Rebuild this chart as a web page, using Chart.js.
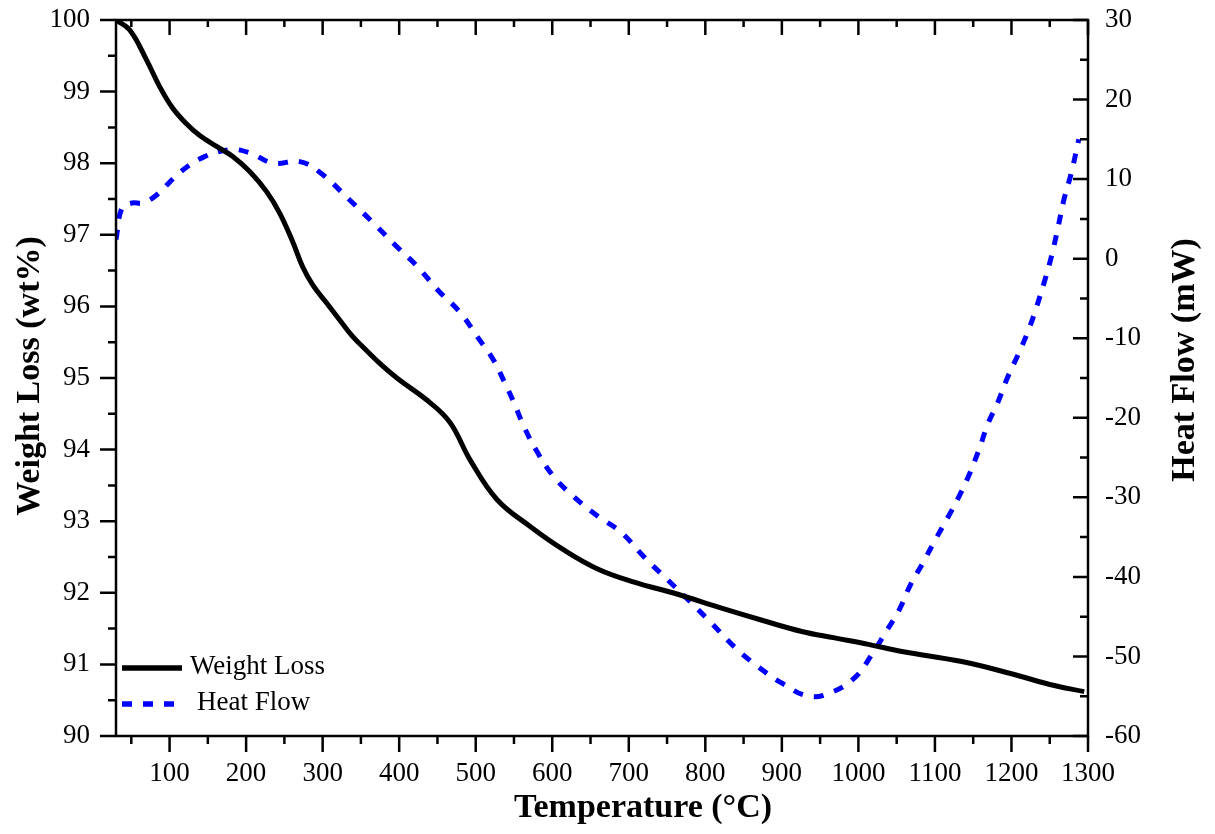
<!DOCTYPE html>
<html lang="en">
<head>
  <meta charset="UTF-8" />
  <title>Weight Loss and Heat Flow</title>
  <script src="https://cdn.jsdelivr.net/npm/chart.js"></script>
  <style>
    html, body { margin: 0; padding: 0; background: #fff; }
    #wrap { width: 1215px; height: 834px; position: relative; }
  </style>
</head>
<body>
  <div id="wrap"><canvas id="tga"></canvas></div>

  <script>
    // Weight loss curve (left axis)
    const weightTemps = [30, 48, 70, 87, 104, 122, 139, 162, 183, 205, 227, 244, 261, 274, 287, 305, 323, 340, 353, 375, 397, 441, 467,
      493, 528, 572, 615, 660, 707, 764, 817, 873, 926, 969, 1013, 1057, 1135, 1200, 1250, 1295];
    const weightLoss = [100, 99.86, 99.44, 99.07, 98.77, 98.55, 98.39, 98.23, 98.09, 97.88, 97.6, 97.3, 96.9, 96.55, 96.3, 96.05, 95.8, 95.57, 95.43, 95.2, 95.0, 94.65, 94.37,
      93.85, 93.3, 92.92, 92.6, 92.33, 92.15, 91.98, 91.8, 91.62, 91.46, 91.37, 91.28, 91.18, 91.04, 90.87, 90.72, 90.62];

    // Heat flow curve (right axis)
    const heatTemps = [30, 38, 51, 65, 83, 113, 143, 179, 205, 235, 270, 297, 335, 366, 397, 424, 450, 480, 502, 523,
      536, 550, 563, 581, 602, 628, 660, 690, 720, 751, 781, 808, 838, 869, 899, 935, 965, 996, 1016, 1036,
      1053, 1068, 1084, 1099, 1117, 1132, 1145, 1158, 1169, 1182, 1195, 1208, 1221, 1232, 1243, 1252, 1261, 1269, 1278, 1288];
    const heatFlow = [2.4, 6.4, 7.0, 7.0, 8.0, 10.8, 12.7, 13.7, 13.3, 12.0, 12.2, 10.8, 7.4, 4.5, 1.5, -1.0, -3.9, -6.8, -9.8, -12.7,
      -15.2, -18.1, -21.1, -24.4, -27.4, -29.9, -32.4, -34.4, -37.5, -40.4, -43.2, -45.8, -48.8, -51.3, -53.3, -55.0, -54.5, -52.6, -50.0, -46.9,
      -44.2, -41.0, -38.3, -35.6, -32.5, -29.8, -27.1, -23.9, -20.8, -18.1, -14.9, -12.2, -9.3, -6.3, -2.9, 0.2, 4.0, 7.6, 10.7, 15.0];

    // tick labels
    const xTicks = [100, 200, 300, 400, 500, 600, 700, 800, 900, 1000, 1100, 1200, 1300];
    const leftTicks = [90, 91, 92, 93, 94, 95, 96, 97, 98, 99, 100];
    const rightTicks = [-60, -50, -40, -30, -20, -10, 0, 10, 20, 30];

    const seriesNames = ['Weight Loss', 'Heat Flow'];
    const axisTitles = ['Temperature (°C)', 'Weight Loss (wt%)', 'Heat Flow (mW)'];

    const SERIF = "'Liberation Serif', 'Times New Roman', serif";
    const BLUE = '#0000ff';

    // frame, tick marks (major + minor), axis titles and legend
    const decorations = {
      id: 'decorations',
      afterDraw(chart) {
        const { ctx, chartArea: a, scales } = chart;
        const x = scales.x, yl = scales.y, yr = scales.y2;
        ctx.save();

        ctx.strokeStyle = '#000';
        ctx.lineWidth = 2.5;
        ctx.strokeRect(a.left, a.top, a.right - a.left, a.bottom - a.top);

        ctx.beginPath();
        xTicks.forEach(v => {
          let p = x.getPixelForValue(v);
          ctx.moveTo(p, a.bottom); ctx.lineTo(p, a.bottom + 16);
          ctx.moveTo(p, a.top); ctx.lineTo(p, a.top + 15);
          p = x.getPixelForValue(v - 50);
          ctx.moveTo(p, a.bottom); ctx.lineTo(p, a.bottom + 8);
          ctx.moveTo(p, a.top); ctx.lineTo(p, a.top + 7);
        });
        leftTicks.forEach((v, i) => {
          let p = yl.getPixelForValue(v);
          ctx.moveTo(a.left, p); ctx.lineTo(a.left - 16, p);
          if (i > 0) {
            p = yl.getPixelForValue(v - 0.5);
            ctx.moveTo(a.left, p); ctx.lineTo(a.left - 8, p);
          }
        });
        rightTicks.forEach((v, i) => {
          let p = yr.getPixelForValue(v);
          ctx.moveTo(a.right, p); ctx.lineTo(a.right - 15, p);
          if (i > 0) {
            p = yr.getPixelForValue(v - 5);
            ctx.moveTo(a.right, p); ctx.lineTo(a.right - 8, p);
          }
        });
        ctx.stroke();

        // axis titles
        ctx.fillStyle = '#000';
        ctx.font = 'bold 34px ' + SERIF;
        ctx.textAlign = 'center';
        ctx.textBaseline = 'middle';
        ctx.fillText(axisTitles[0], 643, 808);
        ctx.save();
        ctx.translate(30, 376);
        ctx.rotate(-Math.PI / 2);
        ctx.fillText(axisTitles[1], 0, 0);
        ctx.restore();
        ctx.save();
        ctx.translate(1185, 360);
        ctx.rotate(-Math.PI / 2);
        ctx.fillText(axisTitles[2], 0, 0);
        ctx.restore();

        // legend
        ctx.lineWidth = 5.5;
        ctx.beginPath();
        ctx.moveTo(122, 668); ctx.lineTo(182, 668);
        ctx.stroke();
        ctx.strokeStyle = BLUE;
        ctx.setLineDash([10, 11]);
        ctx.beginPath();
        ctx.moveTo(122, 704); ctx.lineTo(182, 704);
        ctx.stroke();
        ctx.setLineDash([]);
        ctx.font = '27px ' + SERIF;
        ctx.textAlign = 'left';
        ctx.fillText(seriesNames[0], 190, 667);
        ctx.fillText(seriesNames[1], 197, 703);

        ctx.restore();
      }
    };

    const tickFont = { family: SERIF, size: 27 };
    const plain = v => String(v);

    new Chart(document.getElementById('tga'), {
      type: 'line',
      data: {
        datasets: [
          {
            label: seriesNames[0],
            data: weightTemps.map((t, i) => ({ x: t, y: weightLoss[i] })),
            yAxisID: 'y',
            borderColor: '#000',
            borderWidth: 5,
            pointRadius: 0,
            tension: 0.4
          },
          {
            label: seriesNames[1],
            data: heatTemps.map((t, i) => ({ x: t, y: heatFlow[i] })),
            yAxisID: 'y2',
            borderColor: BLUE,
            borderWidth: 5,
            borderDash: [10, 11],
            pointRadius: 0,
            tension: 0.4
          }
        ]
      },
      options: {
        responsive: true,
        maintainAspectRatio: false,
        animation: false,
        layout: { padding: { top: 20, left: 0, right: 0, bottom: 0 } },
        plugins: { legend: { display: false }, tooltip: { enabled: false } },
        scales: {
          x: {
            type: 'linear',
            min: 30,
            max: 1300,
            afterBuildTicks: s => { s.ticks = xTicks.map(v => ({ value: v })); },
            afterFit: s => { s.height = 98; s.paddingLeft = 0; s.paddingRight = 0; },
            grid: { display: false, drawTicks: false },
            border: { display: false },
            ticks: { font: tickFont, color: '#000', padding: 22, maxRotation: 0, autoSkip: false, callback: plain }
          },
          y: {
            position: 'left',
            min: 90,
            max: 100,
            afterBuildTicks: s => { s.ticks = leftTicks.map(v => ({ value: v })); },
            afterFit: s => { s.width = 116; s.paddingTop = 0; s.paddingBottom = 0; },
            grid: { display: false, drawTicks: false },
            border: { display: false },
            ticks: { font: tickFont, color: '#000', padding: 26, callback: plain }
          },
          y2: {
            position: 'right',
            min: -60,
            max: 30,
            afterBuildTicks: s => { s.ticks = rightTicks.map(v => ({ value: v })); },
            afterFit: s => { s.width = 127; s.paddingTop = 0; s.paddingBottom = 0; },
            grid: { display: false, drawTicks: false },
            border: { display: false },
            ticks: { font: tickFont, color: '#000', padding: 17, callback: plain }
          }
        }
      },
      plugins: [decorations]
    });
  </script>
</body>
</html>
